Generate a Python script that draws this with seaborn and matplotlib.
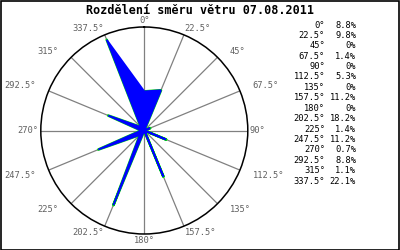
import numpy as np
import pandas as pd
import matplotlib
matplotlib.use("Agg")
import matplotlib.pyplot as plt
import seaborn as sns

directions = [0, 22.5, 45, 67.5, 90, 112.5, 135, 157.5, 180, 202.5, 225, 247.5, 270, 292.5, 315, 337.5]
dir_labels = ["0°", "22.5°", "45°", "67.5°", "90°", "112.5°", "135°", "157.5°", "180°",
              "202.5°", "225°", "247.5°", "270°", "292.5°", "315°", "337.5°"]
percent = [8.8, 9.8, 0, 1.4, 0, 5.3, 0, 11.2, 0, 18.2, 1.4, 11.2, 0.7, 8.8, 1.1, 22.1]
pct_labels = ["8.8%", "9.8%", "0%", "1.4%", "0%", "5.3%", "0%", "11.2%", "0%", "18.2%",
              "1.4%", "11.2%", "0.7%", "8.8%", "1.1%", "22.1%"]
title = "Rozdělení směru větru 07.08.2011"

sns.set_style("white")
plt.rcParams["font.family"] = ["DejaVu Sans Mono", "DejaVu Sans"]

fig = plt.figure(figsize=(4, 2.5), dpi=100)
fig.patch.set_facecolor("white")

ax = fig.add_axes([0.102, 0.064, 0.5175, 0.828], projection="polar")
ax.set_theta_zero_location("N")
ax.set_theta_direction(-1)
rmax = 23.3

df = pd.DataFrame({
    "theta": np.deg2rad(directions + [directions[0]]),
    "r": percent + [percent[0]],
})
sns.lineplot(data=df, x="theta", y="r", sort=False, ax=ax, color="#00e000",
             linewidth=1.9, zorder=3)
ax.fill(df["theta"], df["r"], facecolor="#0000ff", edgecolor="#0000ff",
        linewidth=1.3, zorder=4)

ax.set_ylim(0, rmax)
ax.set_yticks([])
ax.set_thetagrids(directions, [""] * len(directions))
ax.xaxis.grid(True, color="#808080", linewidth=0.9)
ax.yaxis.grid(False)
ax.spines["polar"].set_color("black")
ax.spines["polar"].set_linewidth(1.1)
ax.set_xlabel("")
ax.set_ylabel("")

for d, lab in zip(directions, dir_labels):
    s, c = np.sin(np.deg2rad(d)), np.cos(np.deg2rad(d))
    ha = "left" if s > 0.1 else ("right" if s < -0.1 else "center")
    va = "bottom" if c > 0.1 else ("top" if c < -0.1 else "center")
    dx = 0.0
    if 0.5 < abs(s) < 0.95:
        dx = 11.0 * np.sign(s)
    ax.annotate(lab, xy=(np.deg2rad(d), rmax * 1.02), xytext=(dx, 0),
                textcoords="offset pixels", ha=ha, va=va, fontsize=6.3,
                color="#606060", annotation_clip=False)

fig.text(0.5, 0.96, title, ha="center", va="center", fontsize=8.5,
         fontweight="bold", color="black")

y0 = 1 - 25 / 250
dy = 10.4 / 250
for i, (a, p) in enumerate(zip(dir_labels, pct_labels)):
    y = y0 - i * dy
    fig.text(325 / 400, y, a, ha="right", va="center", fontsize=6.3, color="black")
    fig.text(356 / 400, y, p, ha="right", va="center", fontsize=6.3, color="black")

border = plt.Rectangle((0.0013, 0.002), 0.9974, 0.996, transform=fig.transFigure,
                       fill=False, edgecolor="black", linewidth=1.2)
fig.add_artist(border)

fig.savefig("out.png", dpi=100)
